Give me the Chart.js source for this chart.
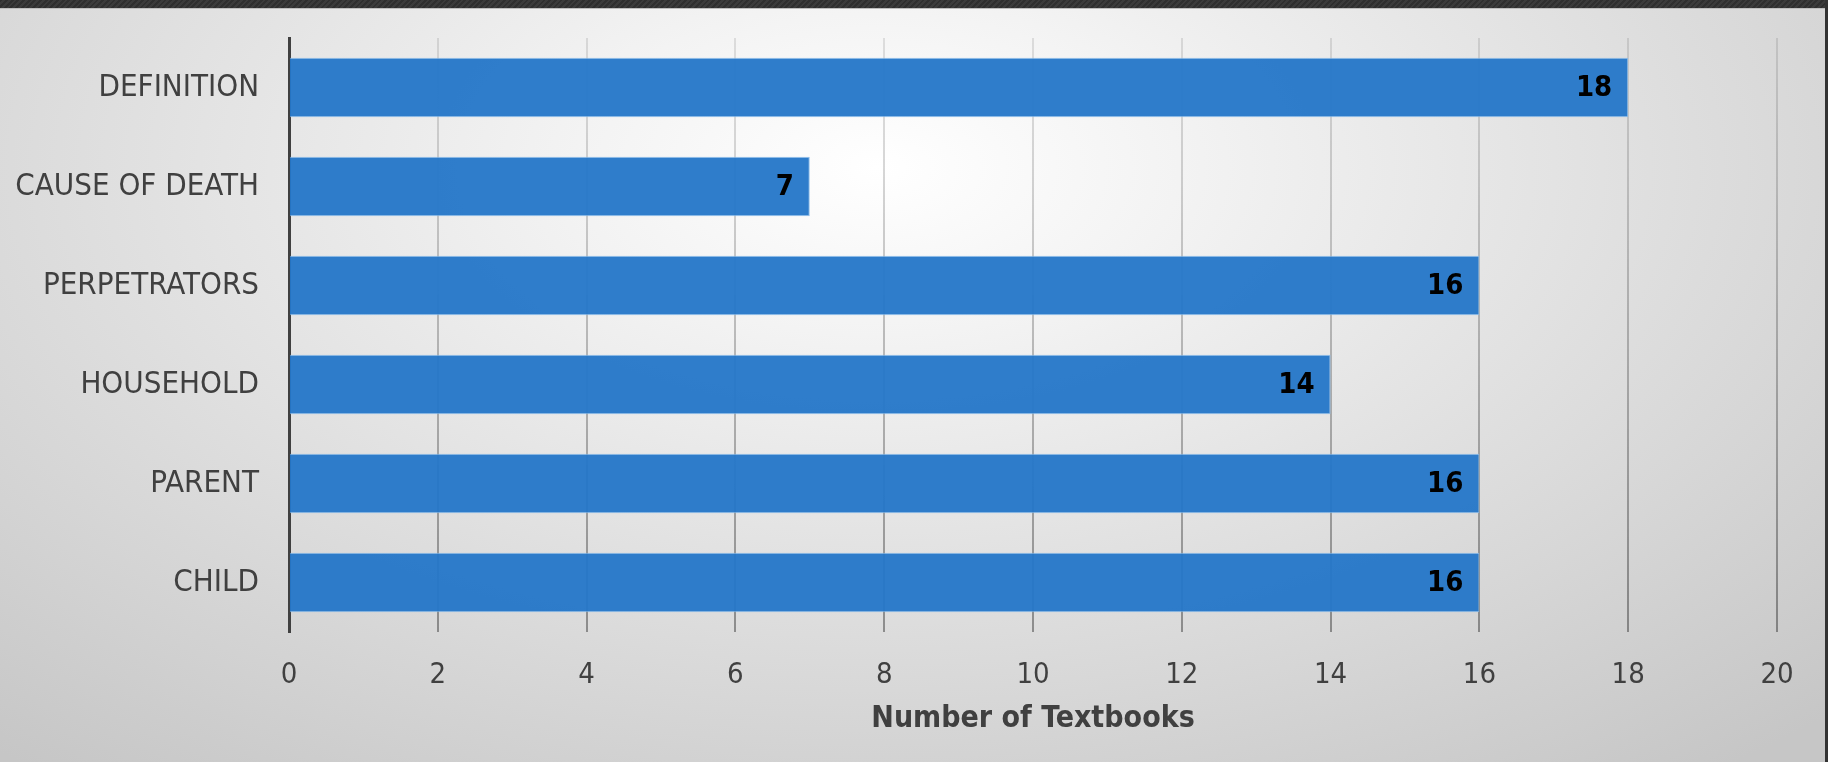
<!DOCTYPE html>
<html>
<head>
<meta charset="utf-8">
<script src="https://cdn.jsdelivr.net/npm/chart.js@4.4.0/dist/chart.umd.min.js"></script>
<style>
  html, body { margin: 0; padding: 0; }
  body {
    width: 1828px; height: 762px; overflow: hidden; position: relative;
    background: radial-gradient(ellipse 75% 100% at 48% 22%, #ffffff 0%, #f3f3f3 22%, #dedede 58%, #c6c6c6 100%);
  }
  .topband {
    position: absolute; left: 0; top: 0; width: 1828px; height: 8px;
    background: repeating-linear-gradient(135deg, #2f2f2f 0 2px, #3b3b3b 2px 4px);
    border-bottom: 1px solid #bdbdbd;
  }
  .rightband {
    position: absolute; right: 0; top: 0; width: 3px; height: 762px; background: #333;
  }
  #wrap { position: absolute; left: 0; top: 0; width: 1828px; height: 762px; }
</style>
</head>
<body>
<div class="topband"></div>
<div class="rightband"></div>
<div id="wrap"><canvas id="chart" width="1828" height="762"></canvas></div>
<script>
  const categories = ['DEFINITION', 'CAUSE OF DEATH', 'PERPETRATORS', 'HOUSEHOLD', 'PARENT', 'CHILD'];
  const textbooks = [18, 7, 16, 14, 16, 16];
  const xTicks = [0, 2, 4, 6, 8, 10, 12, 14, 16, 18, 20];

  const fontFamily = '"DejaVu Sans Condensed", "DejaVu Sans", sans-serif';

  // values printed inside the end of each bar
  const barLabels = {
    id: 'barLabels',
    afterDatasetsDraw(chart) {
      const ctx = chart.ctx;
      const meta = chart.getDatasetMeta(0);
      ctx.save();
      ctx.font = 'bold 29px ' + fontFamily;
      ctx.fillStyle = '#000000';
      ctx.textAlign = 'right';
      ctx.textBaseline = 'middle';
      meta.data.forEach((bar, i) => {
        ctx.fillText(String(textbooks[i]), bar.x - 16, bar.y + 1);
      });
      ctx.restore();
    }
  };

  function gridColor(context) {
    const chart = context.chart;
    const area = chart.chartArea;
    if (!area) return 'rgba(0,0,0,0.2)';
    const g = chart.ctx.createLinearGradient(0, area.top, 0, area.bottom);
    g.addColorStop(0, 'rgba(0,0,0,0.10)');
    g.addColorStop(1, 'rgba(0,0,0,0.36)');
    return g;
  }

  const ctx = document.getElementById('chart').getContext('2d');
  const chart = new Chart(ctx, {
    type: 'bar',
    data: {
      labels: categories,
      datasets: [{
        label: 'Number of Textbooks',
        data: textbooks,
        backgroundColor: 'rgba(36,118,200,0.95)',
        borderColor: 'rgba(140,188,235,0.9)',
        borderWidth: 1,
        borderSkipped: 'start',
        barPercentage: 0.6,
        categoryPercentage: 1
      }]
    },
    options: {
      indexAxis: 'y',
      responsive: false,
      animation: false,
      layout: { padding: { top: 38, right: 51, left: 0, bottom: 0 } },
      plugins: {
        legend: { display: false },
        tooltip: { enabled: false }
      },
      scales: {
        x: {
          min: 0,
          max: 20,
          afterBuildTicks: scale => { scale.ticks = xTicks.map(v => ({ value: v })); },
          afterFit: scale => {
            scale.height = 130;
            scale.paddingLeft = 0;
            scale.paddingRight = 0;
          },
          grid: { color: gridColor, lineWidth: 2, drawTicks: false },
          border: { display: false },
          ticks: {
            color: '#404040',
            font: { family: fontFamily, size: 29 },
            padding: 26
          },
          title: {
            display: true,
            text: 'Number of Textbooks',
            color: '#404040',
            font: { family: fontFamily, size: 30, weight: 'bold' },
            padding: { top: 0, bottom: 25 }
          }
        },
        y: {
          afterFit: scale => {
            scale.width = 289;
            scale.paddingTop = 0;
            scale.paddingBottom = 0;
          },
          grid: { display: false, drawTicks: false },
          border: { display: true, color: '#404040', width: 3 },
          ticks: {
            color: '#404040',
            font: { family: fontFamily, size: 31 },
            padding: 30
          }
        }
      }
    },
    plugins: [barLabels]
  });
</script>
</body>
</html>
